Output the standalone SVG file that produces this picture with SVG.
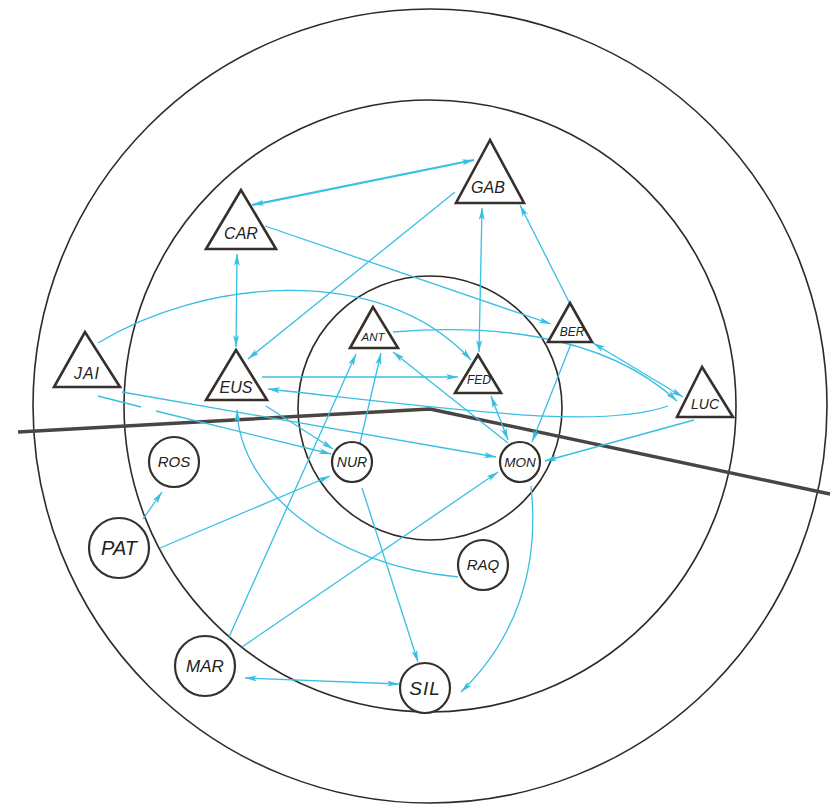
<svg xmlns="http://www.w3.org/2000/svg" width="833" height="808" viewBox="0 0 833 808">
<defs>
<marker id="ah" viewBox="0 0 12 6" refX="12" refY="3" markerWidth="12" markerHeight="6" markerUnits="userSpaceOnUse" orient="auto-start-reverse">
<path d="M0,0 L12,3 L0,6 L3,3 Z" fill="#38bfe3"/>
</marker>
<style>
.ring{fill:none;stroke:#2e2a28;stroke-width:1.6}
.div{fill:none;stroke:#4a4540;stroke-width:3.5;stroke-linejoin:round}
.tri{fill:#fff;stroke:#35302c;stroke-width:2.6;stroke-linejoin:miter}
.cir{fill:#fff;stroke:#35302c;stroke-width:2.2}
.lbl{font-family:"Liberation Sans",Arial,sans-serif;font-style:italic;fill:#222;text-anchor:middle}
.c{fill:none;stroke:#38bfe3;stroke-width:1.3}
.a{marker-end:url(#ah)}
.d{marker-start:url(#ah);marker-end:url(#ah)}
</style>
</defs>
<rect width="833" height="808" fill="#fff"/>
<g id="rings">
<circle class="ring" cx="430" cy="406" r="397"/>
<circle class="ring" cx="430" cy="406" r="306"/>
<circle class="ring" cx="430" cy="408" r="132"/>
<polyline class="div" points="18,432 430,409 830,494"/>
</g>
<g id="connectors">
<path class="c d" style="stroke-width:2.2" d="M252,205 L474,160"/>
<path class="c a" d="M265,226 L551,324"/>
<path class="c a" d="M455,192 L248,359"/>
<path class="c d" d="M482,208 L479,352"/>
<path class="c a" d="M570,304 L520,205"/>
<path class="c d" d="M237,254 L236,347"/>
<path class="c a" d="M98,343 C200,280 380,260 471,360"/>
<path class="c a" style="stroke-width:1.6" d="M262,377 L458,377"/>
<path class="c a" d="M668,406 C600,430 460,410 268,389"/>
<path class="c a" d="M393,332 C480,325 600,330 677,401"/>
<path class="c d" d="M593,343 L683,397"/>
<path class="c a" d="M571,344 L532,442"/>
<path class="c a" d="M694,420 L545,461"/>
<path class="c" d="M98,396 L141,407"/>
<path class="c a" d="M156,411 L331,454"/>
<path class="c a" d="M122,392 L496,457"/>
<path class="c a" d="M266,406 L333,449"/>
<path class="c a" d="M143,519 L162,492"/>
<path class="c a" d="M160,548 L330,476"/>
<path class="c a" d="M229,637 L356,354"/>
<path class="c a" d="M242,647 L498,472"/>
<path class="c a" d="M360,443 L381,353"/>
<path class="c a" d="M508,443 L393,352"/>
<path class="c d" d="M491,396 L508,440"/>
<path class="c a" d="M362,488 L418,662"/>
<path class="c a" d="M531,486 C540,570 515,640 461,692"/>
<path class="c d" d="M245,678 L399,684"/>
<path class="c a" d="M458,577 C330,565 240,490 237,410"/>
</g>
<g id="GAB"><polygon class="tri" points="490,140 456,203 524,203"/><text class="lbl" x="488" y="193" font-size="16">GAB</text></g>
<g id="CAR"><polygon class="tri" points="241,190 206,249 276,249"/><text class="lbl" x="241" y="239" font-size="16">CAR</text></g>
<g id="JAI"><polygon class="tri" points="85,332 54,387 120,387"/><text class="lbl" x="87" y="379" font-size="16" letter-spacing="1">JAI</text></g>
<g id="EUS"><polygon class="tri" points="236,350 206,400 267,400"/><text class="lbl" x="236" y="393" font-size="16">EUS</text></g>
<g id="ANT"><polygon class="tri" points="373,307 350,348 398,348"/><text class="lbl" x="373" y="341" font-size="11.5">ANT</text></g>
<g id="FED"><polygon class="tri" points="478,355 455,393 501,393"/><text class="lbl" x="479" y="384" font-size="12">FED</text></g>
<g id="BER"><polygon class="tri" points="570,303 548,342 592,342"/><text class="lbl" x="572" y="336" font-size="12">BER</text></g>
<g id="LUC"><polygon class="tri" points="702,367 677,417 733,417"/><text class="lbl" x="705" y="409" font-size="14">LUC</text></g>
<g id="ROS"><circle class="cir" cx="174" cy="462" r="25"/><text class="lbl" x="174" y="467" font-size="15">ROS</text></g>
<g id="PAT"><circle class="cir" cx="119" cy="548" r="30"/><text class="lbl" x="119" y="555" font-size="20">PAT</text></g>
<g id="NUR"><circle class="cir" cx="352" cy="462" r="20"/><text class="lbl" x="352" y="467" font-size="14">NUR</text></g>
<g id="MON"><circle class="cir" cx="520" cy="462" r="20"/><text class="lbl" x="520" y="467" font-size="13.5">MON</text></g>
<g id="RAQ"><circle class="cir" cx="483" cy="565" r="25"/><text class="lbl" x="483" y="570" font-size="15">RAQ</text></g>
<g id="MAR"><circle class="cir" cx="205" cy="666" r="30"/><text class="lbl" x="205" y="672" font-size="17">MAR</text></g>
<g id="SIL"><circle class="cir" cx="425" cy="688" r="25"/><text class="lbl" x="425" y="695" font-size="19" letter-spacing="1">SIL</text></g>
</svg>
